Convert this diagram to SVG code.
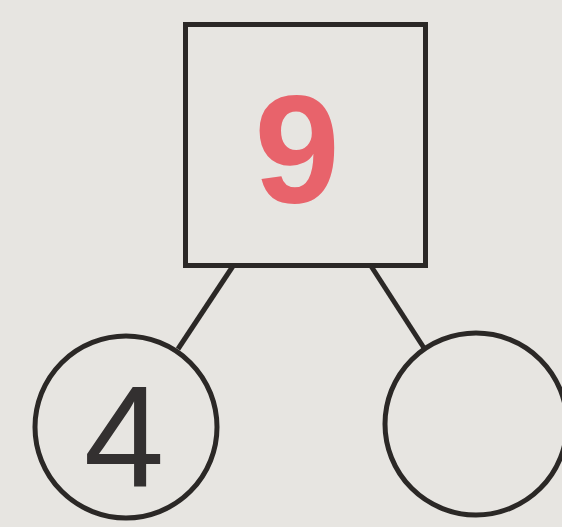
<svg xmlns="http://www.w3.org/2000/svg" width="562" height="527" viewBox="0 0 562 527">
<style>
.shape{fill:none;stroke:#2b2826;stroke-width:5}
.num{font-family:"Liberation Sans",Arial,sans-serif;text-anchor:middle}
</style>
<rect x="0" y="0" width="562" height="527" fill="#e7e5e1"/>
<g id="connectors">
<line class="shape" x1="233" y1="266" x2="178" y2="349"/>
<line class="shape" x1="371" y1="266" x2="424" y2="348"/>
</g>
<g id="top">
<rect class="shape" x="185.5" y="24.5" width="240" height="241"/>
<text class="num" x="297" y="203" font-size="154" fill="#e8636b" font-weight="bold">9</text>
</g>
<g id="left">
<circle class="shape" cx="126" cy="427" r="91"/>
<text class="num" x="124" y="487" font-size="145" fill="#333030">4</text>
</g>
<g id="right">
<circle class="shape" cx="476" cy="424" r="91"/>
</g>
</svg>
